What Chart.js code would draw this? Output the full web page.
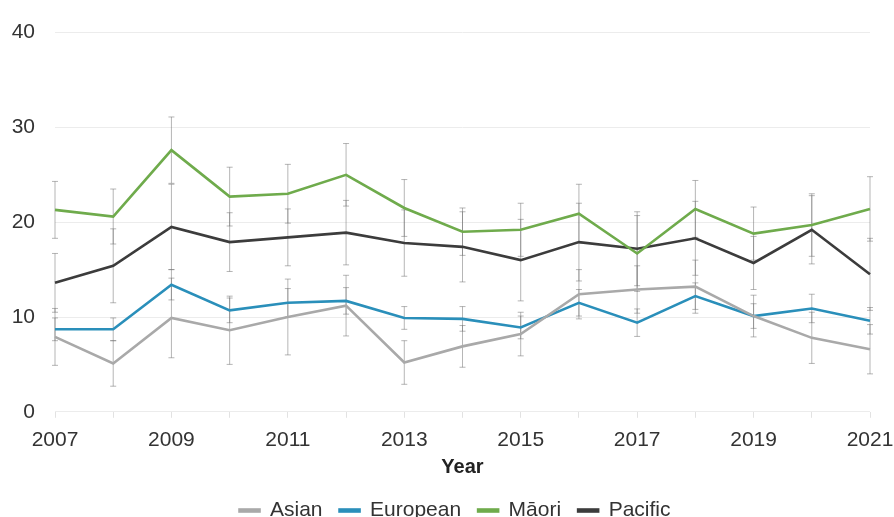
<!DOCTYPE html>
<html>
<head>
<meta charset="utf-8">
<script src="https://cdn.jsdelivr.net/npm/chart.js@4.4.1/dist/chart.umd.min.js"></script>
<style>
  html, body { margin: 0; padding: 0; background: #fff; }
  #wrap { width: 894px; height: 517px; }
</style>
</head>
<body>
<div id="wrap"><canvas id="rateChart"></canvas></div>
<script>
// Years on the x axis
const years = ['2007', '2008', '2009', '2010', '2011', '2012', '2013', '2014',
               '2015', '2016', '2017', '2018', '2019', '2020', '2021'];

// Rates by ethnic group, with the half-width of each error bar
const asian = [7.9, 5.1, 9.9, 8.6, 10.0, 11.2, 5.2, 6.9, 8.2, 12.4, 12.9, 13.2, 10.1, 7.8, 6.6];
const asianErr = [3.0, 2.4, 4.2, 3.6, 4.0, 3.2, 2.3, 2.2, 2.3, 2.6, 2.5, 2.8, 2.2, 2.7, 2.6];

const european = [8.7, 8.7, 13.4, 10.7, 11.5, 11.7, 9.9, 9.8, 8.9, 11.5, 9.4, 12.2, 10.1, 10.9, 9.6];
const europeanErr = [1.2, 1.2, 1.6, 1.3, 1.5, 1.4, 1.2, 1.3, 1.2, 1.4, 1.45, 1.4, 1.3, 1.5, 1.4];

const maori = [21.3, 20.6, 27.6, 22.7, 23.0, 25.0, 21.5, 19.0, 19.2, 20.9, 16.7, 21.4, 18.8, 19.7, 21.4];
const maoriErr = [3.0, 2.9, 3.5, 3.1, 3.1, 3.3, 3.0, 2.5, 2.8, 3.1, 4.0, 3.0, 2.8, 3.3, 3.4];

const pacific = [13.6, 15.4, 19.5, 17.9, 18.4, 18.9, 17.8, 17.4, 16.0, 17.9, 17.2, 18.3, 15.7, 19.2, 14.5];
const pacificErr = [3.1, 3.9, 4.5, 3.1, 3.0, 3.4, 3.5, 3.7, 4.3, 4.1, 3.9, 3.9, 2.8, 3.6, 3.8];

const yTicks = [0, 10, 20, 30, 40];

// Draws the error bars under the lines, using the chart's own scales
const errorBars = {
    id: 'errorBars',
    beforeDatasetsDraw(chart) {
        const ctx = chart.ctx;
        const y = chart.scales.y;
        ctx.save();
        ctx.lineWidth = 1;
        ctx.strokeStyle = 'rgba(110,110,110,0.5)';
        chart.data.datasets.forEach((ds, di) => {
            const meta = chart.getDatasetMeta(di);
            ds.errors.forEach((e, i) => {
                const x = meta.data[i].x;
                const top = y.getPixelForValue(ds.data[i] + e);
                const bot = y.getPixelForValue(ds.data[i] - e);
                ctx.beginPath();
                ctx.moveTo(x, top); ctx.lineTo(x, bot);
                ctx.moveTo(x - 3, top); ctx.lineTo(x + 3, top);
                ctx.moveTo(x - 3, bot); ctx.lineTo(x + 3, bot);
                ctx.stroke();
            });
        });
        ctx.restore();
    }
};

// Trims the legend box so it sits close to the bottom edge,
// and nudges it right so it centres under the plot
const tightLegend = {
    id: 'tightLegend',
    beforeInit(chart) {
        const fit = chart.legend.fit;
        chart.legend.fit = function () {
            fit.bind(chart.legend)();
            this.height -= 14;
        };
    },
    afterLayout(chart) {
        chart.legend.left += 14;
        chart.legend.right += 14;
    }
};

function makeSeries(label, data, errors, color) {
    return {
        label: label,
        data: data,
        errors: errors,
        borderColor: color,
        backgroundColor: color,
        borderWidth: 2.6,
        pointRadius: 0,
        tension: 0
    };
}

function loadChart() {
    const ctx = document.getElementById('rateChart');
    Chart.defaults.font.family = '"Liberation Sans", Arial, sans-serif';
    Chart.defaults.color = '#333';
    new Chart(ctx.getContext('2d'), {
        type: 'line',
        data: {
            labels: years,
            datasets: [
                makeSeries('Asian', asian, asianErr, '#a9a9a9'),
                makeSeries('European', european, europeanErr, '#2a8fba'),
                makeSeries('Māori', maori, maoriErr, '#6fab4c'),
                makeSeries('Pacific', pacific, pacificErr, '#3c3c3c')
            ]
        },
        options: {
            responsive: true,
            maintainAspectRatio: false,
            animation: false,
            layout: { padding: { left: 12, right: 24, top: 17, bottom: 0 } },
            plugins: {
                tooltip: { enabled: false },
                legend: {
                    position: 'bottom',
                    labels: {
                        font: { size: 21 },
                        color: '#333',
                        boxWidth: 20,
                        boxHeight: 2,
                        padding: 17
                    }
                }
            },
            scales: {
                x: {
                    border: { display: false },
                    grid: {
                        drawOnChartArea: false,
                        drawTicks: true,
                        tickLength: 6,
                        color: '#e2e2e2'
                    },
                    afterFit: (axis) => { axis.paddingLeft = 0; axis.paddingRight = 0; },
                    ticks: {
                        autoSkip: false,
                        maxRotation: 0,
                        padding: 10,
                        font: { size: 21 },
                        color: '#333',
                        callback: (v, i) => (i % 2 === 0 ? years[i] : '')
                    },
                    title: {
                        display: true,
                        text: 'Year',
                        font: { size: 20, weight: 'bold' },
                        color: '#222',
                        padding: { top: -8, bottom: 4 }
                    }
                },
                y: {
                    min: yTicks[0],
                    max: yTicks[yTicks.length - 1],
                    border: { display: false },
                    grid: { color: '#ececec', drawTicks: false },
                    afterBuildTicks: (axis) => { axis.ticks = yTicks.map(v => ({ value: v })); },
                    afterFit: (axis) => { axis.width = 43; },
                    ticks: {
                        padding: 20,
                        font: { size: 21 },
                        color: '#333'
                    }
                }
            }
        },
        plugins: [errorBars, tightLegend]
    });
}

window.onload = () => {
    loadChart();
};
</script>
</body>
</html>
